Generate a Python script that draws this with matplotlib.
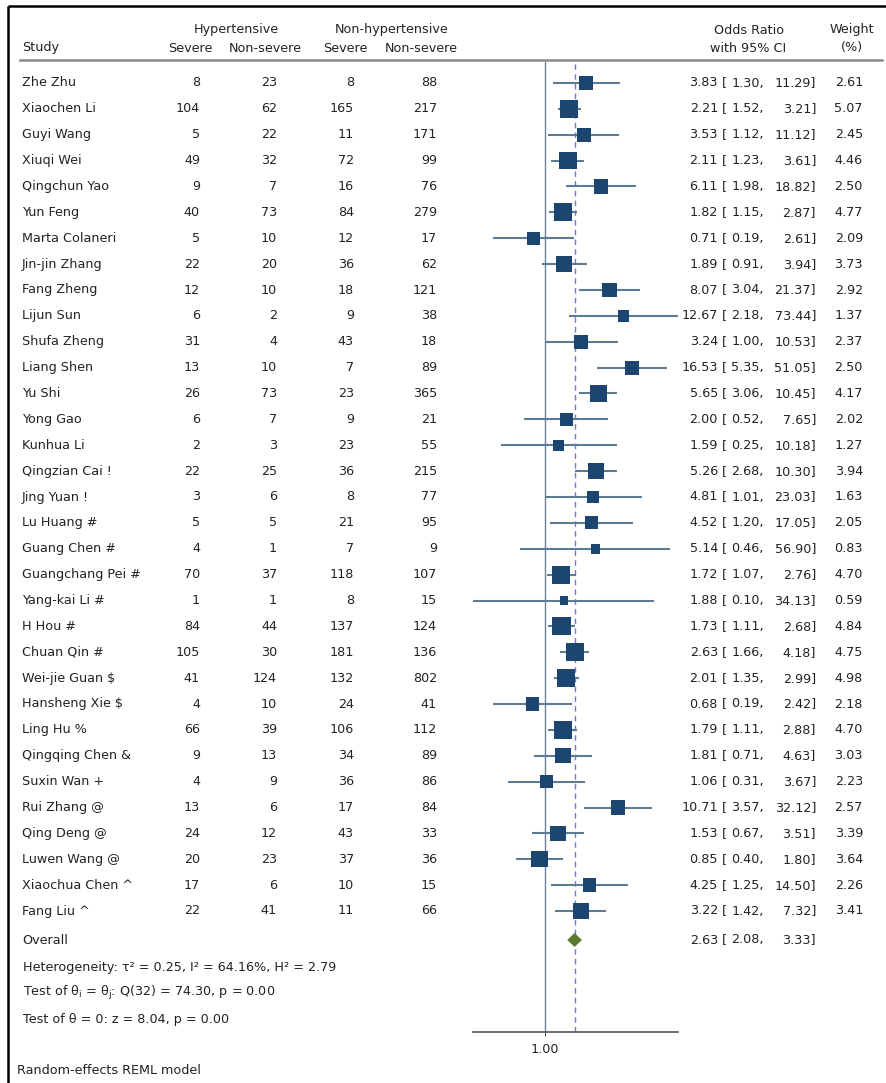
import numpy as np
import matplotlib
matplotlib.use('Agg')
import matplotlib.pyplot as plt

plt.rcParams['font.family'] = ['DejaVu Sans']

studies = ['Zhe Zhu', 'Xiaochen Li', 'Guyi Wang', 'Xiuqi Wei', 'Qingchun Yao', 'Yun Feng',
           'Marta Colaneri', 'Jin-jin Zhang', 'Fang Zheng', 'Lijun Sun', 'Shufa Zheng',
           'Liang Shen', 'Yu Shi', 'Yong Gao', 'Kunhua Li', 'Qingzian Cai !', 'Jing Yuan !',
           'Lu Huang #', 'Guang Chen #', 'Guangchang Pei #', 'Yang-kai Li #', 'H Hou #',
           'Chuan Qin #', r'Wei-jie Guan \$', r'Hansheng Xie \$', 'Ling Hu %', 'Qingqing Chen &',
           'Suxin Wan +', 'Rui Zhang @', 'Qing Deng @', 'Luwen Wang @', 'Xiaochua Chen ^',
           'Fang Liu ^']
hyp_severe = [8, 104, 5, 49, 9, 40, 5, 22, 12, 6, 31, 13, 26, 6, 2, 22, 3, 5, 4, 70, 1, 84,
              105, 41, 4, 66, 9, 4, 13, 24, 20, 17, 22]
hyp_nonsevere = [23, 62, 22, 32, 7, 73, 10, 20, 10, 2, 4, 10, 73, 7, 3, 25, 6, 5, 1, 37, 1, 44,
                 30, 124, 10, 39, 13, 9, 6, 12, 23, 6, 41]
non_severe = [8, 165, 11, 72, 16, 84, 12, 36, 18, 9, 43, 7, 23, 9, 23, 36, 8, 21, 7, 118, 8, 137,
              181, 132, 24, 106, 34, 36, 17, 43, 37, 10, 11]
non_nonsevere = [88, 217, 171, 99, 76, 279, 17, 62, 121, 38, 18, 89, 365, 21, 55, 215, 77, 95, 9,
                 107, 15, 124, 136, 802, 41, 112, 89, 86, 84, 33, 36, 15, 66]
odds = [3.83, 2.21, 3.53, 2.11, 6.11, 1.82, 0.71, 1.89, 8.07, 12.67, 3.24, 16.53, 5.65, 2.00,
        1.59, 5.26, 4.81, 4.52, 5.14, 1.72, 1.88, 1.73, 2.63, 2.01, 0.68, 1.79, 1.81, 1.06,
        10.71, 1.53, 0.85, 4.25, 3.22]
ci_low = [1.30, 1.52, 1.12, 1.23, 1.98, 1.15, 0.19, 0.91, 3.04, 2.18, 1.00, 5.35, 3.06, 0.52,
          0.25, 2.68, 1.01, 1.20, 0.46, 1.07, 0.10, 1.11, 1.66, 1.35, 0.19, 1.11, 0.71, 0.31,
          3.57, 0.67, 0.40, 1.25, 1.42]
ci_high = [11.29, 3.21, 11.12, 3.61, 18.82, 2.87, 2.61, 3.94, 21.37, 73.44, 10.53, 51.05, 10.45,
           7.65, 10.18, 10.30, 23.03, 17.05, 56.90, 2.76, 34.13, 2.68, 4.18, 2.99, 2.42, 2.88,
           4.63, 3.67, 32.12, 3.51, 1.80, 14.50, 7.32]
weights = [2.61, 5.07, 2.45, 4.46, 2.50, 4.77, 2.09, 3.73, 2.92, 1.37, 2.37, 2.50, 4.17, 2.02,
           1.27, 3.94, 1.63, 2.05, 0.83, 4.70, 0.59, 4.84, 4.75, 4.98, 2.18, 4.70, 3.03, 2.23,
           2.57, 3.39, 3.64, 2.26, 3.41]
overall = (2.63, 2.08, 3.33)

W, H = 886, 1083
fig = plt.figure(figsize=(W / 100, H / 100), dpi=100)

# background axes in pixel units for the table text
bg = fig.add_axes([0, 0, 1, 1])
bg.set_xlim(0, W)
bg.set_ylim(H, 0)
bg.axis('off')

FS = 9.2
TC = '#222222'
row0, step = 83, 25.875


def row_y(i):
    return row0 + step * i


# frame and header rule
bg.plot([8, W], [6, 6], color='black', lw=1.8, solid_capstyle='butt')
bg.plot([8, 8], [6, H], color='black', lw=1.8, solid_capstyle='butt')
bg.plot([20, 882], [60, 60], color='#8a8a8a', lw=1.8)

# headers
hdr = dict(fontsize=FS, color=TC, va='center')
bg.text(236, 30, 'Hypertensive', ha='center', **hdr)
bg.text(392, 30, 'Non-hypertensive', ha='center', **hdr)
bg.text(22, 48, 'Study', ha='left', **hdr)
bg.text(190, 48, 'Severe', ha='center', **hdr)
bg.text(265, 48, 'Non-severe', ha='center', **hdr)
bg.text(345, 48, 'Severe', ha='center', **hdr)
bg.text(421, 48, 'Non-severe', ha='center', **hdr)
bg.text(749, 30, 'Odds Ratio', ha='center', **hdr)
bg.text(748, 48, 'with 95% CI', ha='center', **hdr)
bg.text(852, 30, 'Weight', ha='center', **hdr)
bg.text(852, 48, '(%)', ha='center', **hdr)

# study rows
for i, name in enumerate(studies):
    y = row_y(i)
    bg.text(22, y, name, ha='left', **hdr)
    for xr, col in zip([200, 277, 354, 437], [hyp_severe, hyp_nonsevere, non_severe, non_nonsevere]):
        bg.text(xr, y, str(col[i]), ha='right', **hdr)
    bg.text(718, y, f'{odds[i]:.2f}', ha='right', **hdr)
    bg.text(722, y, '[', ha='left', **hdr)
    bg.text(764, y, f'{ci_low[i]:.2f},', ha='right', **hdr)
    bg.text(816, y, f'{ci_high[i]:.2f}]', ha='right', **hdr)
    bg.text(863, y, f'{weights[i]:.2f}', ha='right', **hdr)

y_ov = 940
bg.text(22, y_ov, 'Overall', ha='left', **hdr)
bg.text(718, y_ov, f'{overall[0]:.2f}', ha='right', **hdr)
bg.text(722, y_ov, '[', ha='left', **hdr)
bg.text(764, y_ov, f'{overall[1]:.2f},', ha='right', **hdr)
bg.text(816, y_ov, f'{overall[2]:.2f}]', ha='right', **hdr)

bg.text(23, 968, 'Heterogeneity: τ² = 0.25, I² = 64.16%, H² = 2.79', ha='left', **hdr)
bg.text(23, 993, r'Test of θ$_\mathregular{i}$ = θ$_\mathregular{j}$: Q(32) = 74.30, p = 0.00',
        ha='left', **hdr)
bg.text(23, 1019, 'Test of θ = 0: z = 8.04, p = 0.00', ha='left', **hdr)
bg.text(17, 1070, 'Random-effects REML model', ha='left', **hdr)

# forest panel
x0, x1 = 473, 678
ytop, ybot = 62, 1032
ax = fig.add_axes([x0 / W, 1 - ybot / H, (x1 - x0) / W, (ybot - ytop) / H])
ax.set_xscale('log')
ax.set_xlim(0.10, 73.44)
ax.set_ylim((ybot - row0) / step, (ytop - row0) / step)
ax.patch.set_alpha(0)
for s in ['top', 'left', 'right']:
    ax.spines[s].set_visible(False)
ax.spines['bottom'].set_color('#555555')
ax.spines['bottom'].set_linewidth(1.2)
ax.set_yticks([])
ax.set_xticks([1])
ax.set_xticklabels(['1.00'])
ax.xaxis.set_minor_locator(matplotlib.ticker.NullLocator())
ax.tick_params(axis='x', length=3, color='#555555', labelsize=FS, labelcolor=TC, pad=5)

ax.axvline(1, color='#6d8096', lw=1.0, zorder=1)
ax.axvline(overall[0], color='#7373f0', lw=1.0, ls=(0, (4, 3)), zorder=1)

rows = np.arange(len(studies))
ax.hlines(rows, ci_low, ci_high, color='#5f7a93', lw=1.5, zorder=2)
sizes = (2.5 + 4.8 * np.sqrt(weights)) ** 2
ax.scatter(odds, rows, s=sizes, marker='s', color='#1c4670', zorder=3, linewidths=0)

r_ov = (y_ov - row0) / step
dh = 0.27
ax.fill([overall[1], overall[0], overall[2], overall[0]],
        [r_ov, r_ov - dh, r_ov, r_ov + dh], color='#5b7a2e', zorder=3, lw=0)

fig.savefig('out.png', dpi=100)
